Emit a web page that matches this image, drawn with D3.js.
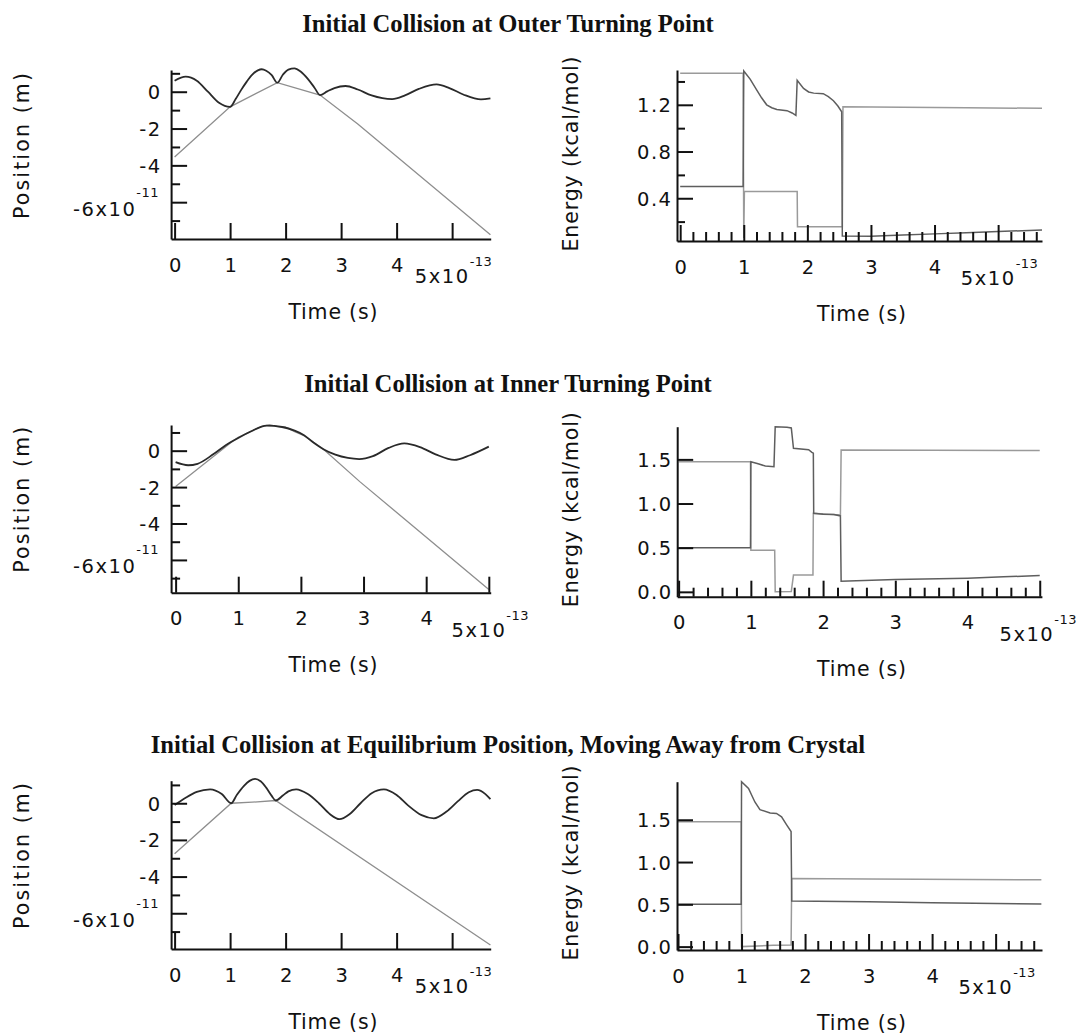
<!DOCTYPE html>
<html>
<head>
<meta charset="utf-8">
<script src="https://cdn.jsdelivr.net/npm/d3@7"></script>
<style>
  html, body { margin: 0; padding: 0; background: #fff; }
  svg { display: block; }
  .title { font-family: "Liberation Serif", "Times New Roman", serif; font-weight: bold; font-size: 24.6px; fill: #111; }
  .tick text { font-family: "DejaVu Sans", sans-serif; font-size: 19.5px; fill: #111; letter-spacing: 1.5px; }
  .tick text tspan.sup { font-size: 13px; letter-spacing: 0.5px; }
  .axis-title { font-family: "DejaVu Sans", sans-serif; font-size: 20.5px; fill: #111; }
  .axis .domain, .axis .tick line { stroke: #111; stroke-width: 2; }
</style>
</head>
<body>
<svg id="fig" width="1082" height="1034"></svg>
<script>
// ---------- axis ticks ----------
const timeTicks = [0, 1, 2, 3, 4, 5];
const energyMinorTimeTicks = d3.range(0.2, 5.7, 0.2).filter(t => Math.abs(t - Math.round(t)) > 0.05);
const positionTicks = [0, -2, -4, -6];
const positionMinorTicks = [1, -1, -3, -5, -7];
const energyTicksOuter = [0.4, 0.8, 1.2];
const energyMinorTicksOuter = [0.2, 0.6, 1.0, 1.4];
const energyTicks = [0.0, 0.5, 1.0, 1.5];

const panelTitles = [
  "Initial Collision at Outer Turning Point",
  "Initial Collision at Inner Turning Point",
  "Initial Collision at Equilibrium Position, Moving Away from Crystal"
];

// ---------- positions: [time (1e-13 s), position (1e-11 m)] ----------
// Outer turning point
const outerMoleculePos = [
  [0, 0.6], [0.2, 0.82], [0.4, 0.6], [0.6, 0.0], [0.8, -0.6], [1.0, -0.82],
  [1.1, -0.4], [1.2, 0.1], [1.3, 0.55], [1.4, 0.93], [1.5, 1.16], [1.57, 1.22],
  [1.65, 1.14], [1.75, 0.9], [1.85, 0.49], [1.95, 0.92], [2.05, 1.2], [2.16, 1.27],
  [2.27, 1.1], [2.4, 0.7], [2.52, 0.22], [2.62, -0.18], [2.75, 0.02], [2.88, 0.2],
  [3.08, 0.31], [3.3, 0.12], [3.55, -0.2], [3.92, -0.4], [4.15, -0.2], [4.4, 0.15],
  [4.72, 0.4], [4.95, 0.2], [5.2, -0.15], [5.52, -0.42], [5.69, -0.36]
];
const outerAtomPos = [
  [0, -3.55], [1.0, -0.82], [1.85, 0.49], [2.62, -0.18], [3.3, -1.75], [5.69, -7.77]
];

// Inner turning point
const innerMoleculePos = [
  [0, -0.63], [0.2, -0.8], [0.35, -0.72], [0.6, -0.2], [0.8, 0.3], [1.0, 0.7],
  [1.2, 1.05], [1.45, 1.38], [1.7, 1.3], [1.9, 1.1], [2.05, 0.85], [2.2, 0.45],
  [2.36, 0.08], [2.55, -0.22], [2.75, -0.4], [2.93, -0.46], [3.15, -0.3], [3.4, 0.15],
  [3.65, 0.4], [3.9, 0.2], [4.15, -0.2], [4.45, -0.51], [4.7, -0.25], [5.0, 0.22]
];
const innerAtomPos = [
  [0, -1.97], [0.92, 0.55], [1.0, 0.74], [1.12, 0.92], [1.25, 1.15], [1.38, 1.33],
  [1.5, 1.42], [1.62, 1.33], [1.75, 1.3], [1.9, 1.05], [2.05, 0.82], [2.2, 0.46],
  [2.36, 0.08], [2.94, -1.7], [5.0, -7.62]
];

// Equilibrium position, moving away from crystal
const equilMoleculePos = [
  [0, -0.1], [0.2, 0.3], [0.4, 0.62], [0.64, 0.76], [0.85, 0.5], [1.02, 0.0],
  [1.12, 0.45], [1.25, 0.95], [1.35, 1.22], [1.45, 1.33], [1.55, 1.2], [1.65, 0.85],
  [1.75, 0.4], [1.82, 0.15], [1.95, 0.42], [2.05, 0.65], [2.19, 0.76], [2.4, 0.5],
  [2.6, 0.0], [2.8, -0.6], [2.97, -0.87], [3.15, -0.6], [3.35, 0.0], [3.55, 0.55],
  [3.77, 0.76], [4.0, 0.45], [4.2, -0.1], [4.45, -0.65], [4.67, -0.82], [4.9, -0.45],
  [5.1, 0.1], [5.3, 0.6], [5.45, 0.73], [5.6, 0.5], [5.69, 0.22]
];
const equilAtomPos = [
  [0, -2.76], [1.02, 0.0], [1.4, 0.06], [1.82, 0.15], [5.69, -7.73]
];

// ---------- energies: [time (1e-13 s), energy (kcal/mol)] ----------
const outerMoleculeEnergy = [
  [0, 0.5], [0.99, 0.5], [1.0, 1.49], [1.1, 1.42], [1.2, 1.33], [1.28, 1.26],
  [1.36, 1.2], [1.44, 1.175], [1.52, 1.16], [1.68, 1.15], [1.76, 1.13], [1.82, 1.11],
  [1.84, 1.41], [1.94, 1.34], [2.02, 1.31], [2.1, 1.3], [2.25, 1.295], [2.33, 1.27],
  [2.41, 1.235], [2.48, 1.19], [2.54, 1.14], [2.55, 0.077], [3.0, 0.075], [3.5, 0.085],
  [4.0, 0.095], [4.5, 0.105], [5.0, 0.115], [5.69, 0.128]
];
const outerAtomEnergy = [
  [0, 1.47], [0.99, 1.47], [1.0, 0.06], [1.01, 0.457], [1.84, 0.457], [1.845, 0.157],
  [2.55, 0.157], [2.56, 1.184], [3.5, 1.18], [4.5, 1.175], [5.69, 1.17]
];

const innerMoleculeEnergy = [
  [0, 0.5], [0.995, 0.5], [1.0, 1.474], [1.1, 1.45], [1.2, 1.425], [1.32, 1.417],
  [1.337, 1.87], [1.5, 1.865], [1.56, 1.856], [1.59, 1.625], [1.8, 1.61], [1.845, 1.58],
  [1.865, 1.57], [1.87, 0.89], [2.0, 0.88], [2.15, 0.875], [2.24, 0.86], [2.25, 0.12],
  [3.0, 0.14], [4.0, 0.155], [4.5, 0.17], [5.0, 0.185]
];
const innerAtomEnergy = [
  [0, 1.474], [0.995, 1.474], [1.0, 0.472], [1.33, 0.472], [1.337, 0.0], [1.56, 0.005],
  [1.59, 0.19], [1.86, 0.19], [1.865, 0.89], [2.24, 0.87], [2.25, 1.606], [5.0, 1.6]
];

const equilMoleculeEnergy = [
  [0, 0.5], [0.995, 0.5], [1.0, 1.95], [1.11, 1.87], [1.21, 1.71], [1.29, 1.62],
  [1.45, 1.58], [1.55, 1.575], [1.63, 1.535], [1.71, 1.44], [1.78, 1.36], [1.79, 0.54],
  [3.0, 0.53], [4.0, 0.52], [5.0, 0.51], [5.72, 0.505]
];
const equilAtomEnergy = [
  [0, 1.477], [0.995, 1.477], [1.0, 0.0], [1.5, 0.015], [1.78, 0.02], [1.79, 0.806],
  [3.0, 0.8], [5.72, 0.79]
];

// ---------- layout ----------
const rows = [
  {
    title: panelTitles[0], titleY: 31.7,
    pos: { x: [-0.063, 5.695], xr: [171.1, 490.7], y: [-8.0, 1.18], yr: [239, 70],
           molecule: outerMoleculePos, atom: outerAtomPos },
    en:  { x: [-0.05, 5.69], xr: [677, 1042], y: [0.034, 1.498], yr: [241, 70],
           ticks: energyTicksOuter, minor: energyMinorTicksOuter,
           molecule: outerMoleculeEnergy, atom: outerAtomEnergy }
  },
  {
    title: panelTitles[1], titleY: 391.5,
    pos: { x: [-0.072, 5.03], xr: [171.1, 490.7], y: [-7.8, 1.41], yr: [592.7, 425],
           molecule: innerMoleculePos, atom: innerAtomPos },
    en:  { x: [-0.02, 5.03], xr: [677.2, 1041.9], y: [-0.055, 1.87], yr: [596.7, 426.7],
           ticks: energyTicks, minor: [], expShift: -3,
           molecule: innerMoleculeEnergy, atom: innerAtomEnergy }
  },
  {
    title: panelTitles[2], titleY: 752.5,
    pos: { x: [-0.063, 5.695], xr: [171.1, 490.7], y: [-7.95, 1.23], yr: [949, 780.7],
           molecule: equilMoleculePos, atom: equilAtomPos },
    en:  { x: [-0.016, 5.73], xr: [677, 1042], y: [-0.04, 1.95], yr: [950, 781.7],
           ticks: energyTicks, minor: [],
           molecule: equilMoleculeEnergy, atom: equilAtomEnergy }
  }
];

const LS = 1.5; // tick-label letter spacing (trailing advance is compensated below)
const svg = d3.select("#fig");

// mantissa + raised exponent inside one text element
function exponentLabel(text, mantissa, exponent, supShift) {
  text.text(null);
  text.append("tspan").text(mantissa);
  text.append("tspan").attr("class", "sup").attr("dy", supShift).text(exponent);
}

function timeAxis(g, x, bottom, withMinor, expShift) {
  const ax = g.append("g").attr("class", "axis").attr("transform", `translate(0,${bottom})`)
    .call(d3.axisBottom(x).tickValues(timeTicks).tickSize(-16).tickSizeOuter(0).tickFormat(d3.format("d")));
  ax.attr("font-family", null).attr("font-size", null);
  ax.selectAll(".tick text").attr("dy", null).attr("y", 32.5).attr("x", LS / 2)
    .each(function (d) {
      if (d === 5) {
        d3.select(this).attr("y", 44).attr("x", 1 + (expShift || 0));
        exponentLabel(d3.select(this), "5x10", "-13", -17);
      }
    });
  if (withMinor) {
    const mi = g.append("g").attr("class", "axis").attr("transform", `translate(0,${bottom})`)
      .call(d3.axisBottom(x).tickValues(energyMinorTimeTicks.filter(t => t <= x.domain()[1]))
        .tickSize(-9).tickSizeOuter(0).tickFormat(() => ""));
    mi.select(".domain").remove();
  }
}

function timeTitle(g, x, bottom) {
  const [a, b] = x.range();
  g.append("text").attr("class", "axis-title")
    .attr("x", (a + b) / 2 + 2).attr("y", bottom + 79.5)
    .attr("text-anchor", "middle")
    .attr("textLength", 89).attr("lengthAdjust", "spacing")
    .text("Time (s)");
}

function verticalTitle(g, label, xPos, yCenter, len) {
  g.append("text").attr("class", "axis-title")
    .attr("transform", `translate(${xPos},${yCenter}) rotate(-90)`)
    .attr("text-anchor", "middle")
    .attr("textLength", len).attr("lengthAdjust", "spacing")
    .text(label);
}

const moleculeLine = (x, y) => d3.line().x(d => x(d[0])).y(d => y(d[1])).curve(d3.curveMonotoneX);
const straightLine = (x, y) => d3.line().x(d => x(d[0])).y(d => y(d[1]));

rows.forEach(row => {
  svg.append("text").attr("class", "title")
    .attr("x", 508).attr("y", row.titleY).attr("text-anchor", "middle")
    .text(row.title);

  // ---- position panel ----
  {
    const p = row.pos;
    const g = svg.append("g");
    const x = d3.scaleLinear().domain(p.x).range(p.xr);
    const y = d3.scaleLinear().domain(p.y).range(p.yr);
    const left = p.xr[0], bottom = p.yr[0];

    g.append("path").datum(p.atom)
      .attr("fill", "none").attr("stroke", "#8e8e8e").attr("stroke-width", 1.3)
      .attr("d", straightLine(x, y));
    g.append("path").datum(p.molecule)
      .attr("fill", "none").attr("stroke", "#2a2a2a").attr("stroke-width", 1.8)
      .attr("d", moleculeLine(x, y));

    const ya = g.append("g").attr("class", "axis").attr("transform", `translate(${left},0)`)
      .call(d3.axisLeft(y).tickValues(positionTicks).tickSize(-16).tickSizeOuter(0).tickFormat(d3.format("d")));
    ya.attr("font-family", null).attr("font-size", null);
    ya.selectAll(".tick text").attr("x", -11 + LS).attr("dy", "0.36em")
      .text(d => d === 0 ? "0" : "-" + Math.abs(d))
      .each(function (d) {
        if (d === -6) {
          d3.select(this).attr("dy", null).attr("y", 13).attr("x", -12);
          exponentLabel(d3.select(this), "-6x10", "-11", -19);
        }
      });
    const ym = g.append("g").attr("class", "axis").attr("transform", `translate(${left},0)`)
      .call(d3.axisLeft(y).tickValues(positionMinorTicks).tickSize(-9).tickSizeOuter(0).tickFormat(() => ""));
    ym.select(".domain").remove();

    timeAxis(g, x, bottom, false, 0);
    timeTitle(g, x, bottom);
    verticalTitle(g, "Position (m)", 29, bottom - 93, 146);
  }

  // ---- energy panel ----
  {
    const e = row.en;
    const g = svg.append("g");
    const x = d3.scaleLinear().domain(e.x).range(e.xr);
    const y = d3.scaleLinear().domain(e.y).range(e.yr);
    const left = e.xr[0], bottom = e.yr[0];

    g.append("path").datum(e.atom)
      .attr("fill", "none").attr("stroke", "#9a9a9a").attr("stroke-width", 1.5)
      .attr("d", straightLine(x, y));
    g.append("path").datum(e.molecule)
      .attr("fill", "none").attr("stroke", "#5e5e5e").attr("stroke-width", 1.5)
      .attr("d", straightLine(x, y));

    const ya = g.append("g").attr("class", "axis").attr("transform", `translate(${left},0)`)
      .call(d3.axisLeft(y).tickValues(e.ticks).tickSize(-16).tickSizeOuter(0).tickFormat(d3.format(".1f")));
    ya.attr("font-family", null).attr("font-size", null);
    ya.selectAll(".tick text").attr("x", -6 + LS).attr("dy", "0.36em");
    if (e.minor.length) {
      const ym = g.append("g").attr("class", "axis").attr("transform", `translate(${left},0)`)
        .call(d3.axisLeft(y).tickValues(e.minor).tickSize(-8).tickSizeOuter(0).tickFormat(() => ""));
      ym.select(".domain").remove();
    }

    timeAxis(g, x, bottom, true, e.expShift);
    timeTitle(g, x, bottom);
    verticalTitle(g, "Energy (kcal/mol)", 578, bottom - 87, 195);
  }
});
</script>
</body>
</html>
